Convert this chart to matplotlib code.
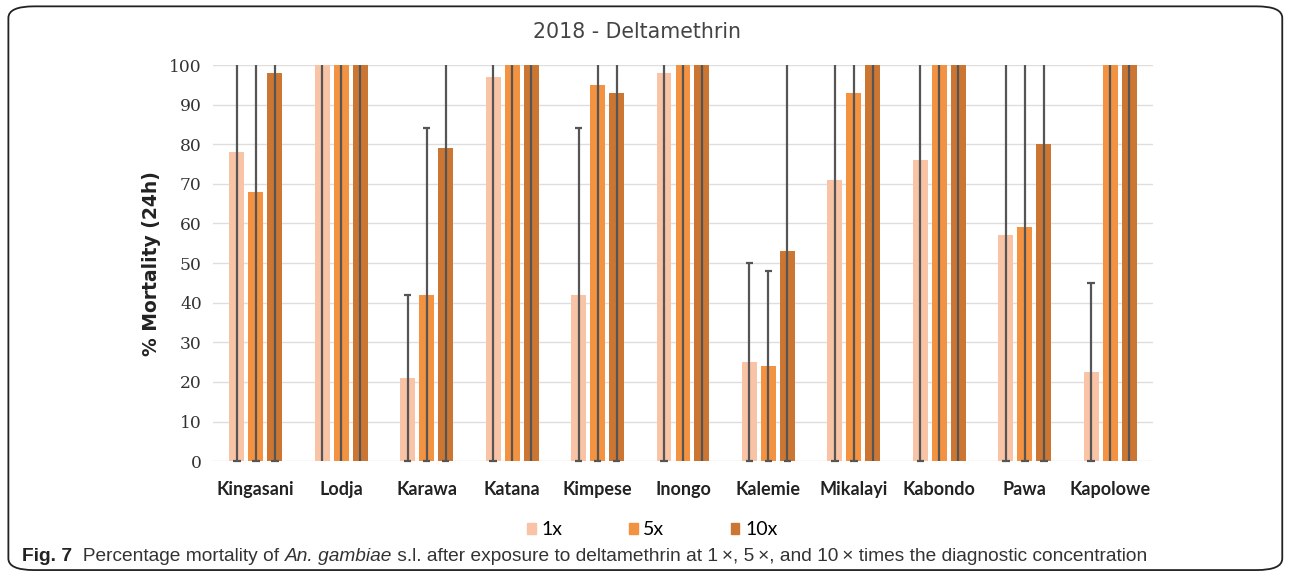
import matplotlib.pyplot as plt
import numpy as np
from matplotlib.patches import FancyBboxPatch, Patch

# data
sites = ['Kingasani', 'Lodja', 'Karawa', 'Katana', 'Kimpese', 'Inongo',
         'Kalemie', 'Mikalayi', 'Kabondo', 'Pawa', 'Kapolowe']
mort_1x = [78, 100, 21, 97, 42, 98, 25, 71, 76, 57, 22.5]
mort_5x = [68, 100, 42, 100, 95, 100, 24, 93, 100, 59, 100]
mort_10x = [98, 100, 79, 100, 93, 100, 53, 100, 100, 80, 100]

# error bar bounds (lower, upper)
lo_1x = [0, -10, 0, 0, 0, 0, 0, 0, 0, 0, 0]
hi_1x = [156, 200, 42, 194, 84, 196, 50, 142, 152, 114, 45]
lo_5x = [0, -10, 0, -10, 0, -10, 0, 0, -10, 0, -10]
hi_5x = [136, 200, 84, 200, 190, 200, 48, 186, 200, 118, 200]
lo_10x = [0, -10, 0, -10, 0, -10, 0, -10, -10, 0, -10]
hi_10x = [196, 200, 158, 200, 186, 200, 106, 200, 200, 160, 200]

doses = ['1x', '5x', '10x']
colors = ['#F9C4A6', '#F39240', '#CC7633']

fig = plt.figure(figsize=(12.9, 5.77), dpi=100)
ax = fig.add_axes([0.1651, 0.2007, 0.7287, 0.6866])

x = np.arange(len(sites))
width = 0.175
offsets = [-0.222, 0, 0.222]
series = [(mort_1x, lo_1x, hi_1x), (mort_5x, lo_5x, hi_5x), (mort_10x, lo_10x, hi_10x)]

err_col = '#555555'
cap = 0.045
for (vals, lo, hi), off, col in zip(series, offsets, colors):
    xs = x + off
    ax.bar(xs, vals, width, color=col, zorder=2)
    lo = np.array(lo, dtype=float)
    hi = np.array(hi, dtype=float)
    ax.vlines(xs, np.clip(lo, 0, 100), np.clip(hi, 0, 100), color=err_col,
              lw=1.6, zorder=3, clip_on=False)
    for xi, l, h in zip(xs, lo, hi):
        # caps only where the bound falls inside the axis range
        if 0 <= l <= 100:
            ax.hlines(l, xi - cap, xi + cap, color=err_col, lw=1.6, zorder=3, clip_on=False)
        if 0 <= h <= 100:
            ax.hlines(h, xi - cap, xi + cap, color=err_col, lw=1.6, zorder=3, clip_on=False)

ax.set_xlim(-0.5, len(sites) - 0.5)
ax.set_ylim(0, 100)
ax.set_yticks(np.arange(0, 101, 10))
ax.yaxis.grid(True, color='#dedede', lw=1, zorder=0)
ax.set_axisbelow(True)
for s in ax.spines.values():
    s.set_visible(False)
ax.tick_params(length=0)
ax.tick_params(axis='y', pad=8)
ax.tick_params(axis='x', pad=14)
ax.set_xticks(x)
ax.set_xticklabels(sites, fontsize=13, fontweight='bold', color='#222222', family='Lato')
for lab in ax.get_yticklabels():
    lab.set_fontfamily('DejaVu Serif')
    lab.set_fontsize(12.3)
    lab.set_color('#333333')
ax.set_ylabel('% Mortality (24h)', fontsize=13.5, fontweight='bold', labelpad=6, color='#222222')

fig.text(0.494, 0.945, '2018 - Deltamethrin', ha='center', va='center',
         fontsize=14.8, color='#444444')

handles = [Patch(color=c) for c in colors]
fig.legend(handles, doses, loc='center', bbox_to_anchor=(0.5057, 0.0815), ncol=3,
           frameon=False, handlelength=0.45, handleheight=0.55, columnspacing=3.4,
           handletextpad=0.3, prop={'size': 14, 'family': 'Lato'})

# caption, pieces chained one after the other
cap_font = ['Liberation Sans', 'DejaVu Sans']
t = fig.text(0.017, 0.027, 'Fig. 7', fontsize=13.8, fontweight='bold',
             family=cap_font, color='#222222')
parts = [('  Percentage mortality of ', 'normal'), ('An. gambiae', 'italic'),
         (' s.l. after exposure to deltamethrin at 1\u2009\u00d7, 5\u2009\u00d7, and 10\u2009\u00d7 '
          'times the diagnostic concentration', 'normal')]
last = t
for txt, style in parts:
    last = ax.annotate(txt, xy=(1, 0), xycoords=last, va='bottom', ha='left',
                       fontsize=13.8, style=style, family=cap_font, color='#333333',
                       annotation_clip=False)

box = FancyBboxPatch((0.0065, 0.012), 0.9875, 0.977, boxstyle='round,pad=0,rounding_size=0.02',
                     transform=fig.transFigure, fill=False, ec='#222222', lw=1.3)
fig.patches.append(box)

fig.savefig('out.png', dpi=100)
